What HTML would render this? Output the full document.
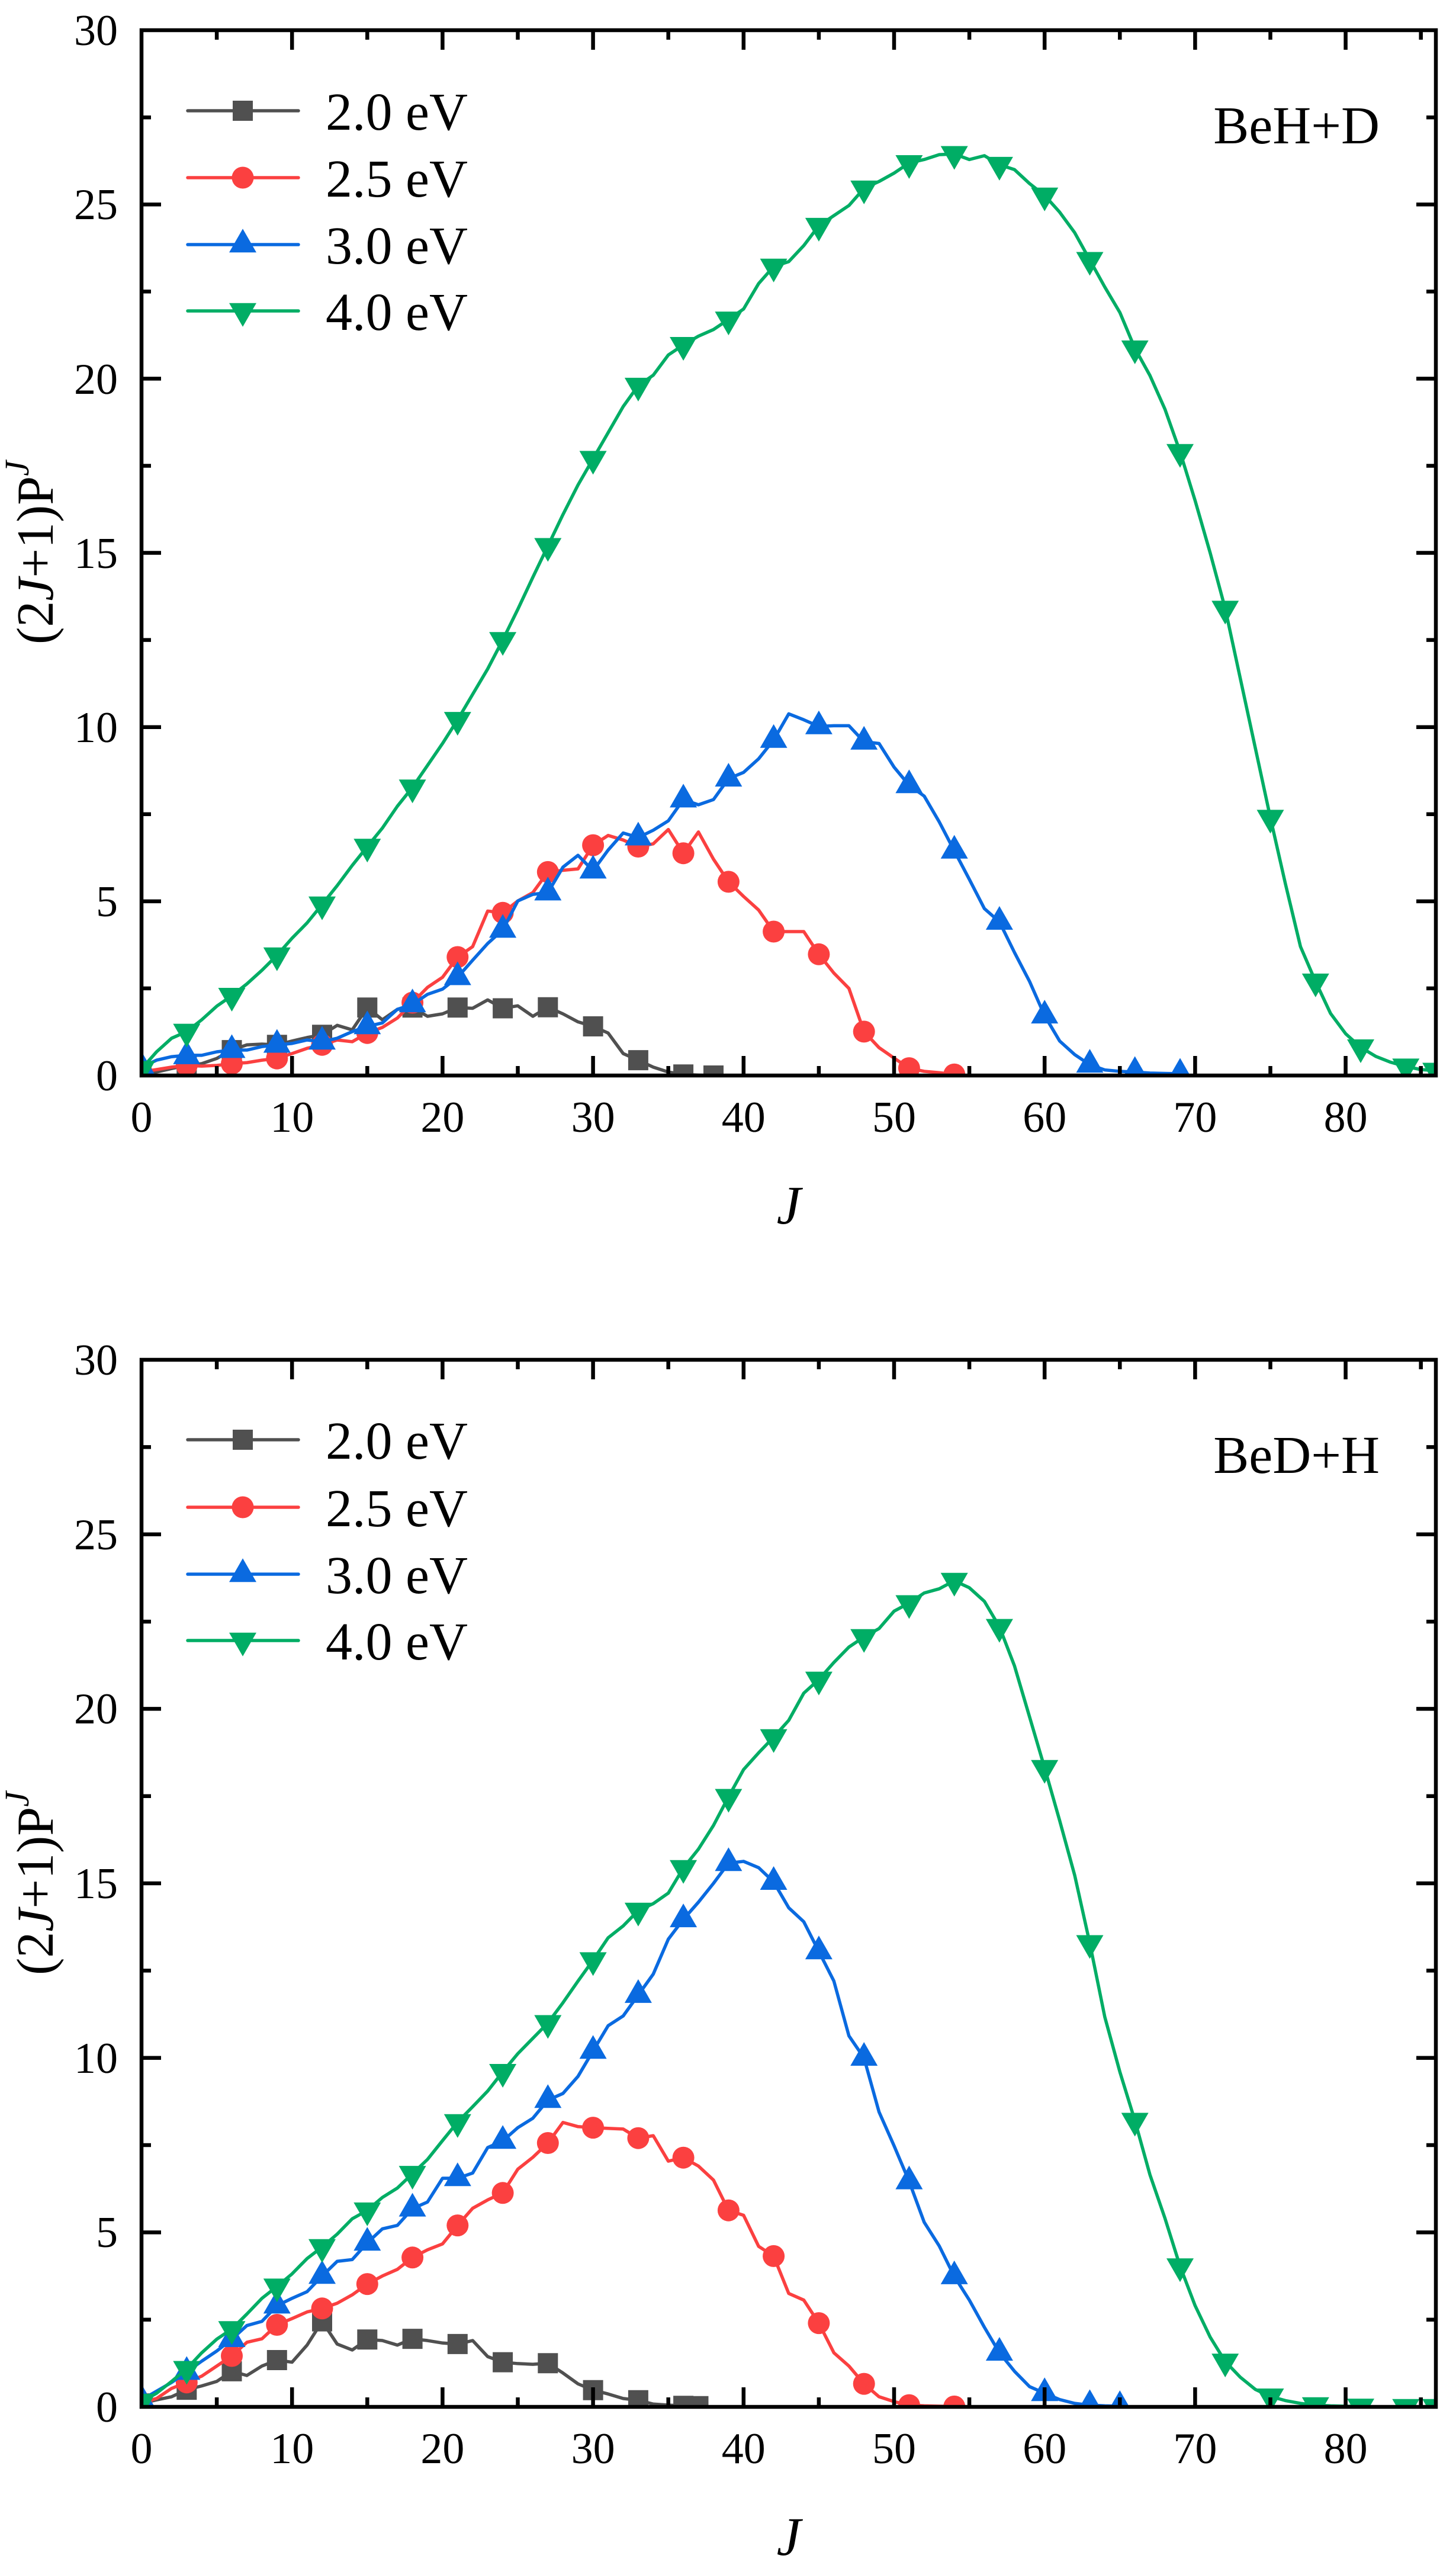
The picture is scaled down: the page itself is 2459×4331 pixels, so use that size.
<!DOCTYPE html>
<html>
<head>
<meta charset="utf-8">
<style>
html,body{margin:0;padding:0;background:#fff;}
svg{display:block;}
text{font-family:"Liberation Serif","Times New Roman",serif;fill:#000;}
</style>
</head>
<body>
<svg xmlns="http://www.w3.org/2000/svg" width="2459" height="4331" viewBox="0 0 2459 4331">
<defs>
  <path id="sq" d="M-17,-17H17V17H-17Z"/>
  <circle id="ci" r="18.5"/>
  <path id="tu" d="M0,-26.7L23,13.3L-23,13.3Z"/>
  <path id="td" d="M0,26.7L23,-13.3L-23,-13.3Z"/>
  <clipPath id="c1"><rect x="239" y="51" width="2186" height="1765"/></clipPath>
  <clipPath id="c2"><rect x="239" y="2296" width="2186" height="1768"/></clipPath>
</defs>
<rect width="2459" height="4331" fill="#fff"/>

<!-- ================= TOP PLOT ================= -->
<g clip-path="url(#c1)">
  <g transform="translate(239,1816) scale(25.42,-58.83)" fill="none" stroke-width="5.5" stroke-linejoin="round">
    <polyline vector-effect="non-scaling-stroke" stroke="#505050" points="0,0.05 1,0.1 2,0.2 3,0.29 4,0.34 5,0.49 6,0.73 7,0.88 8,0.9 9,0.88 10,0.99 11,1.09 12,1.17 13,1.44 14,1.31 15,1.95 16,1.6 17,1.9 18,1.95 19,1.7 20,1.77 21,1.95 22,1.93 23,2.17 24,1.93 25,2.0 26,1.7 27,1.96 28,1.77 29,1.54 30,1.41 31,1.22 32,0.63 33,0.44 34,0.24 35,0.1 36,0.03 37,0.01 38,0"/>
  </g>
  <g fill="#505050">
    <use href="#sq" x="239" y="1813.1"/><use href="#sq" x="315.3" y="1798.9"/><use href="#sq" x="391.5" y="1773.1"/><use href="#sq" x="467.8" y="1764.2"/><use href="#sq" x="544" y="1747.2"/><use href="#sq" x="620.3" y="1701.3"/><use href="#sq" x="696.6" y="1701.3"/><use href="#sq" x="772.8" y="1701.3"/><use href="#sq" x="849.1" y="1702.5"/><use href="#sq" x="925.3" y="1700.7"/><use href="#sq" x="1001.6" y="1733"/><use href="#sq" x="1077.9" y="1790.1"/><use href="#sq" x="1154.1" y="1814.2"/><use href="#sq" x="1205" y="1816"/>
  </g>
  <g transform="translate(239,1816) scale(25.42,-58.83)" fill="none" stroke-width="5.5" stroke-linejoin="round">
    <polyline vector-effect="non-scaling-stroke" stroke="#FB4040" points="0,0.1 1,0.17 2,0.24 3,0.29 4,0.27 5,0.29 6,0.34 7,0.37 8,0.44 9,0.49 10,0.63 11,0.78 12,0.88 13,1.02 14,0.97 15,1.22 16,1.38 17,1.65 18,2.09 19,2.53 20,2.82 21,3.4 22,3.7 23,4.72 24,4.67 25,5.01 26,5.25 27,5.84 28,5.89 29,5.93 30,6.61 31,6.89 32,6.76 33,6.57 34,6.65 35,7.06 36,6.38 37,6.99 38,6.21 39,5.56 40,5.14 41,4.75 42,4.13 43,4.13 44,4.13 45,3.48 46,2.94 47,2.5 48,1.26 49,0.8 50,0.5 51,0.21 52,0.12 53,0.08 54,0.03"/>
  </g>
  <g fill="#FB4040">
    <use href="#ci" x="239" y="1810.1"/><use href="#ci" x="315.3" y="1798.9"/><use href="#ci" x="391.5" y="1796"/><use href="#ci" x="467.8" y="1787.2"/><use href="#ci" x="544" y="1764.2"/><use href="#ci" x="620.3" y="1744.2"/><use href="#ci" x="696.6" y="1693"/><use href="#ci" x="772.8" y="1616"/><use href="#ci" x="849.1" y="1541.3"/><use href="#ci" x="925.3" y="1472.4"/><use href="#ci" x="1001.6" y="1427.1"/><use href="#ci" x="1077.9" y="1429.5"/><use href="#ci" x="1154.1" y="1440.7"/><use href="#ci" x="1230.4" y="1488.9"/><use href="#ci" x="1306.6" y="1573"/><use href="#ci" x="1382.9" y="1611.3"/><use href="#ci" x="1459.2" y="1741.9"/><use href="#ci" x="1535.4" y="1803.6"/><use href="#ci" x="1611.7" y="1814.2"/>
  </g>
  <g transform="translate(239,1816) scale(25.42,-58.83)" fill="none" stroke-width="5.5" stroke-linejoin="round">
    <polyline vector-effect="non-scaling-stroke" stroke="#0A6AE0" points="0,0.24 1,0.44 2,0.54 3,0.58 4,0.58 5,0.68 6,0.73 7,0.73 8,0.83 9,0.88 10,0.92 11,1.02 12,0.97 13,1.07 14,1.26 15,1.41 16,1.51 17,1.9 18,2.04 19,2.33 20,2.48 21,2.82 22,3.31 23,3.79 24,4.18 25,5.01 26,5.2 27,5.25 28,5.98 29,6.32 30,5.88 31,6.47 32,6.96 33,6.83 34,7.04 35,7.31 36,7.92 37,7.77 38,7.92 39,8.52 40,8.7 41,9.09 42,9.63 43,10.38 44,10.21 45,10.02 46,10.04 47,10.04 48,9.58 49,9.53 50,8.85 51,8.33 52,8.02 53,7.28 54,6.45 55,5.63 56,4.79 57,4.41 58,3.53 59,2.7 60,1.72 61,0.99 62,0.6 63,0.31 64,0.16 65,0.12 66,0.1 67,0.07 68,0.06 69,0.05"/>
  </g>
  <g fill="#0A6AE0">
    <use href="#tu" x="239" y="1801.9"/><use href="#tu" x="315.3" y="1783.6"/><use href="#tu" x="391.5" y="1773.1"/><use href="#tu" x="467.8" y="1764.2"/><use href="#tu" x="544" y="1758.9"/><use href="#tu" x="620.3" y="1733"/><use href="#tu" x="696.6" y="1696"/><use href="#tu" x="772.8" y="1650.1"/><use href="#tu" x="849.1" y="1570.1"/><use href="#tu" x="925.3" y="1507.1"/><use href="#tu" x="1001.6" y="1470.1"/><use href="#tu" x="1077.9" y="1414.2"/><use href="#tu" x="1154.1" y="1350.1"/><use href="#tu" x="1230.4" y="1314.8"/><use href="#tu" x="1306.6" y="1249.5"/><use href="#tu" x="1382.9" y="1226.5"/><use href="#tu" x="1459.2" y="1252.4"/><use href="#tu" x="1535.4" y="1325.9"/><use href="#tu" x="1611.7" y="1436.5"/><use href="#tu" x="1687.9" y="1556.6"/><use href="#tu" x="1764.2" y="1714.8"/><use href="#tu" x="1840.5" y="1797.8"/><use href="#tu" x="1916.7" y="1810.1"/><use href="#tu" x="1993" y="1813.1"/>
  </g>
  <g transform="translate(239,1816) scale(25.42,-58.83)" fill="none" stroke-width="5.5" stroke-linejoin="round">
    <polyline vector-effect="non-scaling-stroke" stroke="#00AD65" points="0,0.19 1,0.68 2,1.07 3,1.26 4,1.6 5,1.99 6,2.29 7,2.63 8,3.02 9,3.45 10,3.94 11,4.38 12,4.91 13,5.45 14,6.03 15,6.57 16,7.1 17,7.73 18,8.27 19,8.9 20,9.53 21,10.21 22,10.94 23,11.67 24,12.5 25,13.38 26,14.3 27,15.2 28,16.1 29,16.95 30,17.7 31,18.45 32,19.2 33,19.8 34,20.1 35,20.68 36,20.97 37,21.22 38,21.41 39,21.7 40,22.0 41,22.73 42,23.22 43,23.36 44,23.82 45,24.39 46,24.68 47,24.97 48,25.46 49,25.66 50,25.9 51,26.19 52,26.29 53,26.43 54,26.45 55,26.29 56,26.4 57,26.14 58,26.0 59,25.6 60,25.26 61,24.78 62,24.19 63,23.41 64,22.63 65,21.9 66,20.87 67,20.09 68,19.12 69,17.9 70,16.5 71,15.0 72,13.4 73,11.4 74,9.4 75,7.4 76,5.5 77,3.7 78,2.7 79,1.78 80,1.2 81,0.81 82,0.55 83,0.38 84,0.26 85,0.17 86,0.14"/>
  </g>
  <g fill="#00AD65">
    <use href="#td" x="239" y="1804.8"/><use href="#td" x="315.3" y="1741.9"/><use href="#td" x="391.5" y="1681.3"/><use href="#td" x="467.8" y="1613"/><use href="#td" x="544" y="1527.1"/><use href="#td" x="620.3" y="1429.5"/><use href="#td" x="696.6" y="1329.5"/><use href="#td" x="772.8" y="1215.4"/><use href="#td" x="849.1" y="1080.6"/><use href="#td" x="925.3" y="921.8"/><use href="#td" x="1001.6" y="774.7"/><use href="#td" x="1077.9" y="651.2"/><use href="#td" x="1154.1" y="582.3"/><use href="#td" x="1230.4" y="539.4"/><use href="#td" x="1306.6" y="450"/><use href="#td" x="1382.9" y="381.2"/><use href="#td" x="1459.2" y="318.2"/><use href="#td" x="1535.4" y="275.3"/><use href="#td" x="1611.7" y="259.9"/><use href="#td" x="1687.9" y="278.2"/><use href="#td" x="1764.2" y="330"/><use href="#td" x="1840.5" y="438.8"/><use href="#td" x="1916.7" y="588.2"/><use href="#td" x="1993" y="763"/><use href="#td" x="2069.2" y="1027.7"/><use href="#td" x="2145.5" y="1380.7"/><use href="#td" x="2221.8" y="1657.2"/><use href="#td" x="2298" y="1768.3"/><use href="#td" x="2374.3" y="1800.7"/><use href="#td" x="2425.1" y="1807.8"/>
  </g>
</g>

<!-- top frame & ticks -->
<g stroke="#000" stroke-width="6.5" fill="none">
  <rect x="239" y="51" width="2186" height="1765"/>
  <path d="M493.2,1816v-33M747.4,1816v-33M1001.6,1816v-33M1255.8,1816v-33M1510,1816v-33M1764.2,1816v-33M2018.4,1816v-33M2272.6,1816v-33
           M366.1,1816v-16M620.3,1816v-16M874.5,1816v-16M1128.7,1816v-16M1382.9,1816v-16M1637.1,1816v-16M1891.3,1816v-16M2145.5,1816v-16M2399.7,1816v-16
           M493.2,51v33M747.4,51v33M1001.6,51v33M1255.8,51v33M1510,51v33M1764.2,51v33M2018.4,51v33M2272.6,51v33
           M366.1,51v16M620.3,51v16M874.5,51v16M1128.7,51v16M1382.9,51v16M1637.1,51v16M1891.3,51v16M2145.5,51v16M2399.7,51v16
           M239,1521.85h33M239,1227.7h33M239,933.55h33M239,639.4h33M239,345.25h33
           M239,1668.9h16M239,1374.8h16M239,1080.6h16M239,786.5h16M239,492.3h16M239,198.2h16
           M2425,1521.85h-33M2425,1227.7h-33M2425,933.55h-33M2425,639.4h-33M2425,345.25h-33
           M2425,1668.9h-16M2425,1374.8h-16M2425,1080.6h-16M2425,786.5h-16M2425,492.3h-16M2425,198.2h-16"/>
</g>
<g font-size="74" text-anchor="end">
  <text x="199" y="1841">0</text>
  <text x="199" y="1547">5</text>
  <text x="199" y="1253">10</text>
  <text x="199" y="959">15</text>
  <text x="199" y="665">20</text>
  <text x="199" y="370">25</text>
  <text x="199" y="76">30</text>
</g>
<g font-size="74" text-anchor="middle">
  <text x="239" y="1911">0</text>
  <text x="493.2" y="1911">10</text>
  <text x="747.4" y="1911">20</text>
  <text x="1001.6" y="1911">30</text>
  <text x="1255.8" y="1911">40</text>
  <text x="1510" y="1911">50</text>
  <text x="1764.2" y="1911">60</text>
  <text x="2018.4" y="1911">70</text>
  <text x="2272.6" y="1911">80</text>
</g>
<text x="1332" y="2066" font-size="92" font-style="italic" text-anchor="middle">J</text>
<text transform="translate(89,933) rotate(-90)" font-size="88" text-anchor="middle">(2<tspan font-style="italic">J</tspan>+1)P<tspan font-style="italic" font-size="58" dy="-41">J</tspan></text>
<text x="2330" y="242" font-size="90" text-anchor="end">BeH+D</text>

<!-- top legend -->
<g stroke-width="5.5" stroke-linecap="round">
  <line x1="317" y1="187" x2="504" y2="187" stroke="#505050"/>
  <line x1="317" y1="300" x2="504" y2="300" stroke="#FB4040"/>
  <line x1="317" y1="413" x2="504" y2="413" stroke="#0A6AE0"/>
  <line x1="317" y1="525" x2="504" y2="525" stroke="#00AD65"/>
</g>
<use href="#sq" x="410" y="187" fill="#505050"/>
<use href="#ci" x="410" y="300" fill="#FB4040"/>
<use href="#tu" x="410" y="413" fill="#0A6AE0"/>
<use href="#td" x="410" y="525" fill="#00AD65"/>
<g font-size="90">
  <text x="550" y="219">2.0 eV</text>
  <text x="550" y="332">2.5 eV</text>
  <text x="550" y="445">3.0 eV</text>
  <text x="550" y="557">4.0 eV</text>
</g>

<!-- ================= BOTTOM PLOT ================= -->
<g clip-path="url(#c2)">
  <g transform="translate(239,4064) scale(25.42,-58.93)" fill="none" stroke-width="5.5" stroke-linejoin="round">
    <polyline vector-effect="non-scaling-stroke" stroke="#505050" points="0,0.1 1,0.2 2,0.29 3,0.49 4,0.6 5,0.73 6,1.02 7,0.9 8,1.17 9,1.34 10,1.28 11,1.77 12,2.45 13,1.8 14,1.63 15,1.93 16,1.9 17,1.77 18,1.95 19,1.9 20,1.83 21,1.8 22,1.9 23,1.44 24,1.28 25,1.24 26,1.22 27,1.25 28,0.97 29,0.66 30,0.48 31,0.37 32,0.24 33,0.19 34,0.08 35,0.05 36,0.03 37,0.02"/>
  </g>
  <g fill="#505050">
    <use href="#sq" x="239" y="4058.1"/><use href="#sq" x="315.3" y="4035.1"/><use href="#sq" x="391.5" y="4003.9"/><use href="#sq" x="467.8" y="3985"/><use href="#sq" x="544" y="3919.6"/><use href="#sq" x="620.3" y="3950.3"/><use href="#sq" x="696.6" y="3949.1"/><use href="#sq" x="772.8" y="3957.9"/><use href="#sq" x="849.1" y="3988.6"/><use href="#sq" x="925.3" y="3990.3"/><use href="#sq" x="1001.6" y="4035.7"/><use href="#sq" x="1077.9" y="4052.8"/><use href="#sq" x="1154.1" y="4062.2"/><use href="#sq" x="1179.5" y="4062.8"/>
  </g>
  <g transform="translate(239,4064) scale(25.42,-58.93)" fill="none" stroke-width="5.5" stroke-linejoin="round">
    <polyline vector-effect="non-scaling-stroke" stroke="#FB4040" points="0,0.12 1,0.24 2,0.53 3,0.7 4,0.88 5,1.17 6,1.46 7,1.85 8,1.95 9,2.35 10,2.53 11,2.72 12,2.82 13,2.97 14,3.21 15,3.52 16,3.75 17,3.94 18,4.28 19,4.5 20,4.67 21,5.2 22,5.69 23,5.93 24,6.13 25,6.81 26,7.15 27,7.56 28,8.15 29,8.03 30,8.0 31,7.98 32,7.96 33,7.7 34,7.77 35,7.04 36,7.14 37,6.9 38,6.5 39,5.63 40,5.49 41,4.6 42,4.32 43,3.25 44,3.06 45,2.4 46,1.55 47,1.17 48,0.66 49,0.29 50,0.15 51,0.05 52,0.03 53,0.02 54,0.01"/>
  </g>
  <g fill="#FB4040">
    <use href="#ci" x="239" y="4056.9"/><use href="#ci" x="315.3" y="4022.7"/><use href="#ci" x="391.5" y="3978"/><use href="#ci" x="467.8" y="3925.5"/><use href="#ci" x="544" y="3897.8"/><use href="#ci" x="620.3" y="3856.6"/><use href="#ci" x="696.6" y="3811.8"/><use href="#ci" x="772.8" y="3757.6"/><use href="#ci" x="849.1" y="3702.8"/><use href="#ci" x="925.3" y="3618.5"/><use href="#ci" x="1001.6" y="3592.6"/><use href="#ci" x="1077.9" y="3610.2"/><use href="#ci" x="1154.1" y="3643.2"/><use href="#ci" x="1230.4" y="3732.2"/><use href="#ci" x="1306.6" y="3809.4"/><use href="#ci" x="1382.9" y="3922.6"/><use href="#ci" x="1459.2" y="4025.1"/><use href="#ci" x="1535.4" y="4061.1"/><use href="#ci" x="1611.7" y="4063.4"/>
  </g>
  <g transform="translate(239,4064) scale(25.42,-58.93)" fill="none" stroke-width="5.5" stroke-linejoin="round">
    <polyline vector-effect="non-scaling-stroke" stroke="#0A6AE0" points="0,0.2 1,0.45 2,0.7 3,1.0 4,1.31 5,1.6 6,1.94 7,2.33 8,2.45 9,2.9 10,3.11 11,3.3 12,3.75 13,4.17 14,4.22 15,4.7 16,5.1 17,5.2 18,5.68 19,5.87 20,6.55 21,6.55 22,6.7 23,7.43 24,7.62 25,8.0 26,8.27 27,8.79 28,8.98 29,9.47 30,10.2 31,10.92 32,11.2 33,11.8 34,12.4 35,13.4 36,13.97 37,14.46 38,15.0 39,15.58 40,15.63 41,15.45 42,15.04 43,14.3 44,13.9 45,13.05 46,12.2 47,10.63 48,10.0 49,8.45 50,7.48 51,6.46 52,5.29 53,4.61 54,3.74 55,3.06 56,2.28 57,1.55 58,1.02 59,0.58 60,0.39 61,0.21 62,0.1 63,0.05 64,0.03 65,0.02"/>
  </g>
  <g fill="#0A6AE0">
    <use href="#tu" x="239" y="4052.2"/><use href="#tu" x="315.3" y="4005.1"/><use href="#tu" x="391.5" y="3949.7"/><use href="#tu" x="467.8" y="3893.1"/><use href="#tu" x="544" y="3843"/><use href="#tu" x="620.3" y="3787"/><use href="#tu" x="696.6" y="3729.3"/><use href="#tu" x="772.8" y="3678"/><use href="#tu" x="849.1" y="3614.9"/><use href="#tu" x="925.3" y="3546"/><use href="#tu" x="1001.6" y="3462.9"/><use href="#tu" x="1077.9" y="3368.6"/><use href="#tu" x="1154.1" y="3240.8"/><use href="#tu" x="1230.4" y="3145.9"/><use href="#tu" x="1306.6" y="3177.7"/><use href="#tu" x="1382.9" y="3295"/><use href="#tu" x="1459.2" y="3474.7"/><use href="#tu" x="1535.4" y="3683.3"/><use href="#tu" x="1611.7" y="3843.6"/><use href="#tu" x="1687.9" y="3972.7"/><use href="#tu" x="1764.2" y="4041"/><use href="#tu" x="1840.5" y="4061.1"/><use href="#tu" x="1891.3" y="4062.8"/>
  </g>
  <g transform="translate(239,4064) scale(25.42,-58.93)" fill="none" stroke-width="5.5" stroke-linejoin="round">
    <polyline vector-effect="non-scaling-stroke" stroke="#00AD65" points="0,0.15 1,0.39 2,0.73 3,1.09 4,1.55 5,1.94 6,2.23 7,2.66 8,3.11 9,3.45 10,3.81 11,4.25 12,4.58 13,4.95 14,5.39 15,5.63 16,6.0 17,6.27 18,6.68 19,7.09 20,7.63 21,8.16 22,8.6 23,9.05 24,9.6 25,10.12 26,10.56 27,11.0 28,11.58 29,12.2 30,12.8 31,13.44 32,13.78 33,14.22 34,14.42 35,14.72 36,15.44 37,15.98 38,16.66 39,17.48 40,18.26 41,18.74 42,19.19 43,19.67 44,20.45 45,20.84 46,21.33 47,21.77 48,22.06 49,22.3 50,22.8 51,23.03 52,23.32 53,23.44 54,23.67 55,23.47 56,23.08 57,22.35 58,21.23 59,19.77 60,18.31 61,16.8 62,15.23 63,13.29 64,11.17 65,9.6 66,8.2 67,6.65 68,5.4 69,4.03 70,2.9 71,2.0 72,1.3 73,0.85 74,0.5 75,0.3 76,0.18 77,0.1 78,0.05 79,0.03 80,0.02 81,0.01 82,0 83,0 84,0 85,0 86,0"/>
  </g>
  <g fill="#00AD65">
    <use href="#td" x="239" y="4055.2"/><use href="#td" x="315.3" y="3999.8"/><use href="#td" x="391.5" y="3932.6"/><use href="#td" x="467.8" y="3860.7"/><use href="#td" x="544" y="3794.1"/><use href="#td" x="620.3" y="3732.2"/><use href="#td" x="696.6" y="3670.4"/><use href="#td" x="772.8" y="3583.1"/><use href="#td" x="849.1" y="3498.3"/><use href="#td" x="925.3" y="3415.8"/><use href="#td" x="1001.6" y="3309.7"/><use href="#td" x="1077.9" y="3226"/><use href="#td" x="1154.1" y="3154.1"/><use href="#td" x="1230.4" y="3033.9"/><use href="#td" x="1306.6" y="2933.1"/><use href="#td" x="1382.9" y="2835.9"/><use href="#td" x="1459.2" y="2764"/><use href="#td" x="1535.4" y="2706.8"/><use href="#td" x="1611.7" y="2669.1"/><use href="#td" x="1687.9" y="2746.9"/><use href="#td" x="1764.2" y="2985"/><use href="#td" x="1840.5" y="3280.8"/><use href="#td" x="1916.7" y="3580.8"/><use href="#td" x="1993" y="3826.5"/><use href="#td" x="2069.2" y="3987.4"/><use href="#td" x="2145.5" y="4046.3"/><use href="#td" x="2221.8" y="4061.1"/><use href="#td" x="2298" y="4063.4"/><use href="#td" x="2374.3" y="4064"/><use href="#td" x="2425.1" y="4064"/>
  </g>
</g>

<!-- bottom frame & ticks -->
<g stroke="#000" stroke-width="6.5" fill="none">
  <rect x="239" y="2296" width="2186" height="1768"/>
  <path d="M493.2,4064v-33M747.4,4064v-33M1001.6,4064v-33M1255.8,4064v-33M1510,4064v-33M1764.2,4064v-33M2018.4,4064v-33M2272.6,4064v-33
           M366.1,4064v-16M620.3,4064v-16M874.5,4064v-16M1128.7,4064v-16M1382.9,4064v-16M1637.1,4064v-16M1891.3,4064v-16M2145.5,4064v-16M2399.7,4064v-16
           M493.2,2296v33M747.4,2296v33M1001.6,2296v33M1255.8,2296v33M1510,2296v33M1764.2,2296v33M2018.4,2296v33M2272.6,2296v33
           M366.1,2296v16M620.3,2296v16M874.5,2296v16M1128.7,2296v16M1382.9,2296v16M1637.1,2296v16M1891.3,2296v16M2145.5,2296v16M2399.7,2296v16
           M239,3769.35h33M239,3474.7h33M239,3180.05h33M239,2885.4h33M239,2590.75h33
           M239,3916.7h16M239,3622h16M239,3327.4h16M239,3032.7h16M239,2738.1h16M239,2443.4h16
           M2425,3769.35h-33M2425,3474.7h-33M2425,3180.05h-33M2425,2885.4h-33M2425,2590.75h-33
           M2425,3916.7h-16M2425,3622h-16M2425,3327.4h-16M2425,3032.7h-16M2425,2738.1h-16M2425,2443.4h-16"/>
</g>
<g font-size="74" text-anchor="end">
  <text x="199" y="4089">0</text>
  <text x="199" y="3794">5</text>
  <text x="199" y="3500">10</text>
  <text x="199" y="3205">15</text>
  <text x="199" y="2910">20</text>
  <text x="199" y="2616">25</text>
  <text x="199" y="2321">30</text>
</g>
<g font-size="74" text-anchor="middle">
  <text x="239" y="4159">0</text>
  <text x="493.2" y="4159">10</text>
  <text x="747.4" y="4159">20</text>
  <text x="1001.6" y="4159">30</text>
  <text x="1255.8" y="4159">40</text>
  <text x="1510" y="4159">50</text>
  <text x="1764.2" y="4159">60</text>
  <text x="2018.4" y="4159">70</text>
  <text x="2272.6" y="4159">80</text>
</g>
<text x="1332" y="4314" font-size="92" font-style="italic" text-anchor="middle">J</text>
<text transform="translate(89,3180) rotate(-90)" font-size="88" text-anchor="middle">(2<tspan font-style="italic">J</tspan>+1)P<tspan font-style="italic" font-size="58" dy="-41">J</tspan></text>
<text x="2330" y="2487" font-size="90" text-anchor="end">BeD+H</text>

<!-- bottom legend -->
<g stroke-width="5.5" stroke-linecap="round">
  <line x1="317" y1="2431" x2="504" y2="2431" stroke="#505050"/>
  <line x1="317" y1="2545" x2="504" y2="2545" stroke="#FB4040"/>
  <line x1="317" y1="2658" x2="504" y2="2658" stroke="#0A6AE0"/>
  <line x1="317" y1="2770" x2="504" y2="2770" stroke="#00AD65"/>
</g>
<use href="#sq" x="410" y="2431" fill="#505050"/>
<use href="#ci" x="410" y="2545" fill="#FB4040"/>
<use href="#tu" x="410" y="2658" fill="#0A6AE0"/>
<use href="#td" x="410" y="2770" fill="#00AD65"/>
<g font-size="90">
  <text x="550" y="2463">2.0 eV</text>
  <text x="550" y="2577">2.5 eV</text>
  <text x="550" y="2690">3.0 eV</text>
  <text x="550" y="2802">4.0 eV</text>
</g>
</svg>
</body>
</html>
